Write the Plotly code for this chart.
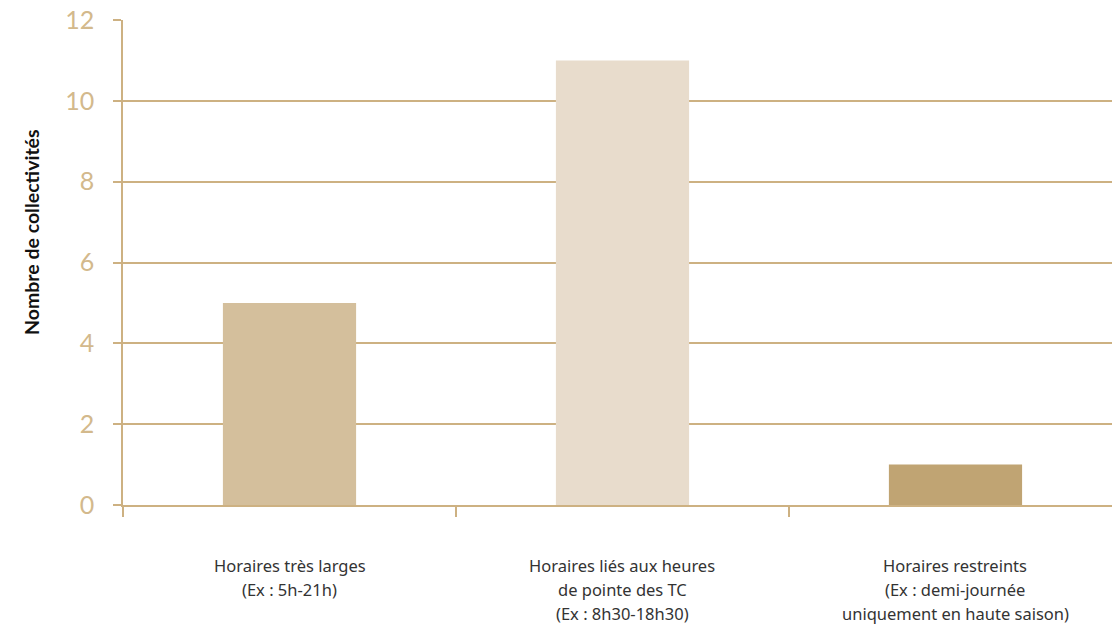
import plotly.graph_objects as go

# Categories (each label split into its display lines) and counts
categories = ["Horaires très larges", "Horaires liés aux heures de pointe des TC", "Horaires restreints"]
label_lines = [
    ["Horaires très larges", "(Ex : 5h-21h)"],
    ["Horaires liés aux heures", "de pointe des TC", "(Ex : 8h30-18h30)"],
    ["Horaires restreints", "(Ex : demi-journée", "uniquement en haute saison)"],
]
counts = [5, 11, 1]
bar_colors = ["#d4bf9c", "#e8dccc", "#c0a473"]
y_ticks = [0, 2, 4, 6, 8, 10, 12]

line_color = "#cdb182"
tick_font_color = "#d3b98c"

fig = go.Figure(
    go.Bar(
        x=categories,
        y=counts,
        marker=dict(color=bar_colors, line=dict(width=0)),
        width=0.4,
        hoverinfo="x+y",
    )
)

# Category labels below the axis, one annotation per line
for cat, lines in zip(categories, label_lines):
    for i, txt in enumerate(lines):
        fig.add_annotation(
            x=cat, xref="x",
            y=-0.125 - i * 0.0495, yref="paper",
            text=txt, showarrow=False,
            xanchor="center", yanchor="middle",
            font=dict(family="Noto Sans, sans-serif", size=16.5, color="#333333"),
        )

# Rotated y-axis title
fig.add_annotation(
    x=-0.0925, xref="paper", y=0.5 + (262 - 232) / 485, yref="paper",
    text="<b>Nombre de collectivités</b>", textangle=-90, showarrow=False,
    xanchor="center", yanchor="middle",
    font=dict(family="Lato, sans-serif", size=19.5, color="#111111"),
)

fig.update_layout(
    width=1112, height=627,
    margin=dict(l=123, r=0, t=20, b=122),
    paper_bgcolor="white", plot_bgcolor="white",
    showlegend=False,
    bargap=0.6,
    xaxis=dict(
        type="category",
        range=[-0.5, 2.47],
        showticklabels=False,
        showgrid=False,
        showline=True, linecolor=line_color, linewidth=1.5,
        zeroline=False,
        ticks="outside", tickson="boundaries",
        ticklen=10, tickwidth=1.5, tickcolor=line_color,
    ),
    yaxis=dict(
        range=[0, 12],
        tickvals=y_ticks,
        showgrid=True, gridcolor=line_color, gridwidth=1.5,
        zeroline=False,
        showline=True, linecolor=line_color, linewidth=1.5,
        ticks="outside", ticklen=8, tickwidth=1.5, tickcolor=line_color,
        ticklabelstandoff=14,
        tickfont=dict(family="Lato, sans-serif", size=25, color=tick_font_color),
    ),
)

fig.write_html("out.html")
